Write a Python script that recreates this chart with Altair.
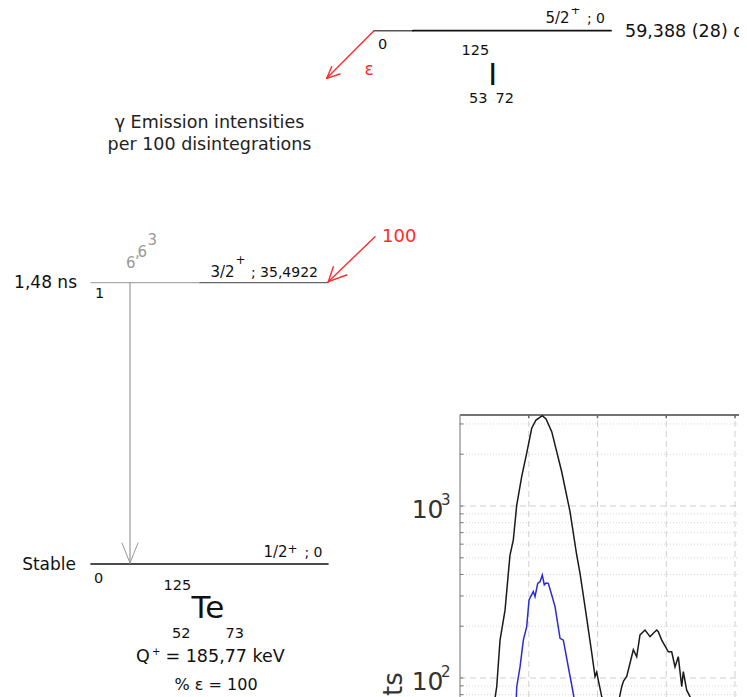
import altair as alt
import pandas as pd

FONT = "DejaVu Sans"
RED = "#ff2a2a"
GRAY = "#999999"

# ---------------- spectrum (counts, log scale) ----------------
black_ch = [4.95, 5.34, 5.82, 6.55, 7.03, 7.27, 7.75, 8.25, 8.97, 9.70, 10.43, 11.05, 11.97, 12.51,
            13.34, 14.79, 16.0, 16.97, 17.45, 18.18, 19.16, 19.64, 19.88, 20.12, 20.61, 21.09, 22.1,
            22.98, 23.52, 23.78, 24.25, 25.21, 25.70, 26.18, 26.91, 27.64, 28.12, 28.61, 28.84, 29.34,
            30.30, 30.79, 31.27, 31.75, 32.25, 32.48, 32.97, 33.45, 33.89]
black_counts = [70, 89, 166, 248, 407, 519, 634, 1013, 1481, 2032, 2831, 3162, 3350, 3206,
                2705, 1582, 927, 519, 407, 260, 140, 102, 108, 97, 78, 70, 62,
                70, 89, 96, 102, 146, 133, 178, 190, 174, 182, 190, 186, 166,
                142, 142, 116, 133, 89, 109, 85, 78, 65]
blue_ch = [8.15, 8.25, 8.73, 9.21, 9.70, 10.04, 10.33, 10.66, 10.91, 11.30, 11.64, 11.97, 12.26,
           12.51, 12.84, 13.34, 13.82, 14.55, 15.03, 15.75, 16.48, 16.73]
blue_counts = [70, 89, 116, 166, 199, 284, 300, 318, 297, 355, 363, 397, 348,
               357, 355, 304, 260, 170, 166, 116, 81, 70]

major_counts = [100, 1000]
minor_counts = [80, 90, 200, 300, 400, 500, 600, 700, 800, 900, 2000, 3000]
x_grid = [10, 20, 30, 40]
tick_exponents = ["2", "3"]

# spectrum frame
CH_MIN, CH_MAX = -65.75, 40.58
C_MIN, C_MAX = 77.55, 785900
BOX_TOP = 3381

# ---------------- decay scheme content ----------------
# straight segments: x, x2, y, y2, colour, width
seg_x = [374, 413, 91, 200, 91, 130, 122, 138, 374, 326.7, 326.7, 375, 328.3, 328.3]
seg_x2 = [413, 611, 200, 328, 328, 130, 130, 130, 326.7, 340, 331.7, 328.3, 346.7, 333.3]
seg_y = [30.7, 30.7, 282.7, 282.7, 564, 283, 543, 543, 30.7, 78.3, 78.3, 236.7, 281.7, 281.7]
seg_y2 = [30.7, 30.7, 282.7, 282.7, 564, 563, 563, 563, 78.3, 74, 66.7, 281.7, 275, 266.7]
seg_col = ["#555555", "#111111", "#aaaaaa", "#666666", "#111111", GRAY, GRAY, GRAY,
           RED, RED, RED, RED, RED, RED]
seg_w = [1.6, 1.8, 1.2, 1.2, 1.6, 1.2, 1.0, 1.0, 1.4, 1.4, 1.4, 1.4, 1.4, 1.4]

# texts: text, x, baseline y, size, colour, align
texts = [
    ("5/2", 545.5, 23.3, 15, "#111", "left"),
    ("+", 570.5, 14, 12, "#111", "left"),
    ("; 0", 605, 23.3, 14, "#111", "right"),
    ("59,388 (28) d", 625, 37, 17.5, "#111", "left"),
    ("0", 378, 49.3, 14.5, "#111", "left"),
    ("125", 461.5, 55, 14.5, "#111", "left"),
    ("I", 492.7, 85, 30, "#111", "center"),
    ("53", 469, 103.3, 14.5, "#111", "left"),
    ("72", 495.5, 103.3, 14.5, "#111", "left"),
    ("ε", 369, 75, 17, RED, "center"),
    ("γ Emission intensities", 209.5, 128.3, 17.5, "#222", "center"),
    ("per 100 disintegrations", 209.5, 150, 17.5, "#222", "center"),
    ("1,48 ns", 77, 288.3, 17, "#111", "right"),
    ("1", 95, 298.3, 14.5, "#111", "left"),
    ("3/2", 210.5, 276.7, 15, "#111", "left"),
    ("+", 235.5, 264, 12, "#111", "left"),
    ("; 35,4922", 318, 276.7, 14, "#111", "right"),
    ("100", 382, 241.7, 18, RED, "left"),
    ("6", 126, 268.3, 15, GRAY, "left"),
    (",", 135, 257, 15, GRAY, "left"),
    ("6", 137.5, 256.7, 15, GRAY, "left"),
    ("3", 147.5, 245, 15, GRAY, "left"),
    ("Stable", 76, 570, 17, "#111", "right"),
    ("1/2", 263.5, 556.7, 15, "#111", "left"),
    ("+", 287.5, 553, 12, "#111", "left"),
    ("; 0", 322.5, 556.7, 14, "#111", "right"),
    ("0", 94, 583.3, 14.5, "#111", "left"),
    ("125", 163.5, 590, 14.5, "#111", "left"),
    ("Te", 191.5, 618.3, 31, "#111", "left"),
    ("52", 172, 638.3, 14.5, "#111", "left"),
    ("73", 225.5, 638.3, 14.5, "#111", "left"),
    ("Q", 136, 661.7, 17.5, "#111", "left"),
    ("+", 152, 654.6, 10, "#111", "left"),
    ("= 185,77 keV", 165.5, 661.7, 17.5, "#111", "left"),
    ("% ε = 100", 174.5, 690, 16, "#111", "left"),
]

# ---------------- scales ----------------
PX = alt.Scale(domain=[8, 739], nice=False, zero=False)
PY = alt.Scale(domain=[8, 697], nice=False, zero=False, reverse=True)
SX = alt.Scale(domain=[CH_MIN, CH_MAX], nice=False, zero=False)
SY = alt.Scale(type="log", domain=[C_MIN, C_MAX], nice=False)

layers = []

# decay scheme segments
seg_df = pd.DataFrame({"x": seg_x, "x2": seg_x2, "y": seg_y, "y2": seg_y2,
                       "c": seg_col, "w": seg_w})
layers.append(alt.Chart(seg_df).mark_rule(strokeCap="round").encode(
    x=alt.X("x:Q", scale=PX, axis=None), x2="x2:Q",
    y=alt.Y("y:Q", scale=PY, axis=None), y2="y2:Q",
    color=alt.Color("c:N", scale=None),
    strokeWidth=alt.StrokeWidth("w:Q", scale=None)))

txt_df = pd.DataFrame(texts, columns=["t", "x", "y", "s", "c", "a"])
for al in ["left", "center", "right"]:
    sub = txt_df[txt_df["a"] == al]
    layers.append(alt.Chart(sub).mark_text(align=al, baseline="alphabetic", font=FONT).encode(
        x=alt.X("x:Q", scale=PX, axis=None),
        y=alt.Y("y:Q", scale=PY, axis=None),
        text="t:N",
        size=alt.Size("s:Q", scale=None),
        color=alt.Color("c:N", scale=None)))

# spectrum grid
minor_df = pd.DataFrame({"y": minor_counts, "x": [0] * len(minor_counts),
                         "x2": [CH_MAX] * len(minor_counts)})
layers.append(alt.Chart(minor_df).mark_rule(color="#d6d6d6", strokeWidth=1, strokeDash=[1, 2]).encode(
    x=alt.X("x:Q", scale=SX, axis=None), x2="x2:Q",
    y=alt.Y("y:Q", scale=SY, axis=None)))
major_df = pd.DataFrame({"y": major_counts, "x": [0] * 2, "x2": [CH_MAX] * 2})
layers.append(alt.Chart(major_df).mark_rule(color="#cfcfcf", strokeWidth=1, strokeDash=[6, 4]).encode(
    x=alt.X("x:Q", scale=SX, axis=None), x2="x2:Q",
    y=alt.Y("y:Q", scale=SY, axis=None)))
vg_df = pd.DataFrame({"x": x_grid, "y": [C_MIN] * 4, "y2": [BOX_TOP] * 4})
layers.append(alt.Chart(vg_df).mark_rule(color="#d0d0d0", strokeWidth=1, strokeDash=[6, 4]).encode(
    x=alt.X("x:Q", scale=SX, axis=None),
    y=alt.Y("y:Q", scale=SY, axis=None), y2="y2:Q"))

# box borders
layers.append(alt.Chart(pd.DataFrame({"x": [0], "x2": [CH_MAX], "y": [BOX_TOP]})).mark_rule(
    color="#444", strokeWidth=1.3).encode(
    x=alt.X("x:Q", scale=SX, axis=None), x2="x2:Q",
    y=alt.Y("y:Q", scale=SY, axis=None)))
layers.append(alt.Chart(pd.DataFrame({"x": [0], "y": [C_MIN], "y2": [BOX_TOP]})).mark_rule(
    color="#888", strokeWidth=1.2).encode(
    x=alt.X("x:Q", scale=SX, axis=None),
    y=alt.Y("y:Q", scale=SY, axis=None), y2="y2:Q"))

# ticks
all_ticks = major_counts + minor_counts
tk_df = pd.DataFrame({"y": all_ticks, "x": [0] * len(all_ticks), "x2": [0.5] * len(all_ticks)})
layers.append(alt.Chart(tk_df).mark_rule(color="#777", strokeWidth=1).encode(
    x=alt.X("x:Q", scale=SX, axis=None), x2="x2:Q",
    y=alt.Y("y:Q", scale=SY, axis=None)))
tt_df = pd.DataFrame({"x": x_grid, "y": [BOX_TOP] * 4, "y2": [3240] * 4})
layers.append(alt.Chart(tt_df).mark_rule(color="#666", strokeWidth=1.5).encode(
    x=alt.X("x:Q", scale=SX, axis=None),
    y=alt.Y("y:Q", scale=SY, axis=None), y2="y2:Q"))

# tick labels
lab_df = pd.DataFrame({"y": major_counts, "t": ["10", "10"], "x": [-2.4, -2.4]})
layers.append(alt.Chart(lab_df).mark_text(align="right", baseline="alphabetic", font=FONT,
                                           fontSize=25, dy=12, color="#333").encode(
    x=alt.X("x:Q", scale=SX, axis=None),
    y=alt.Y("y:Q", scale=SY, axis=None), text="t:N"))
sup_df = pd.DataFrame({"y": major_counts, "t": tick_exponents, "x": [-2.75, -2.75]})
layers.append(alt.Chart(sup_df).mark_text(align="left", baseline="alphabetic", font=FONT,
                                           fontSize=15, dy=-1, color="#333").encode(
    x=alt.X("x:Q", scale=SX, axis=None),
    y=alt.Y("y:Q", scale=SY, axis=None), text="t:N"))
layers.append(alt.Chart(pd.DataFrame({"x": [-8.4], "y": [108], "t": ["Counts"]})).mark_text(
    align="right", baseline="alphabetic", font=FONT, fontSize=26, angle=270, color="#333").encode(
    x=alt.X("x:Q", scale=SX, axis=None),
    y=alt.Y("y:Q", scale=SY, axis=None), text="t:N"))

# spectra
bdf = pd.DataFrame({"ch": black_ch, "n": black_counts})
layers.append(alt.Chart(bdf).mark_line(color="#1a1a1a", strokeWidth=1.5, clip=True).encode(
    x=alt.X("ch:Q", scale=SX, axis=None),
    y=alt.Y("n:Q", scale=SY, axis=None)))
udf = pd.DataFrame({"ch": blue_ch, "n": blue_counts})
layers.append(alt.Chart(udf).mark_line(color="#2a2ad6", strokeWidth=1.5, clip=True).encode(
    x=alt.X("ch:Q", scale=SX, axis=None),
    y=alt.Y("n:Q", scale=SY, axis=None)))

chart = alt.layer(*layers).resolve_scale(x="independent", y="independent").properties(
    width=731, height=689, padding=0,
    autosize=alt.AutoSizeParams(type="none"),
    background="white",
).configure_view(stroke=None)

chart.save("out.html", embed_options={"renderer": "svg", "actions": False})
